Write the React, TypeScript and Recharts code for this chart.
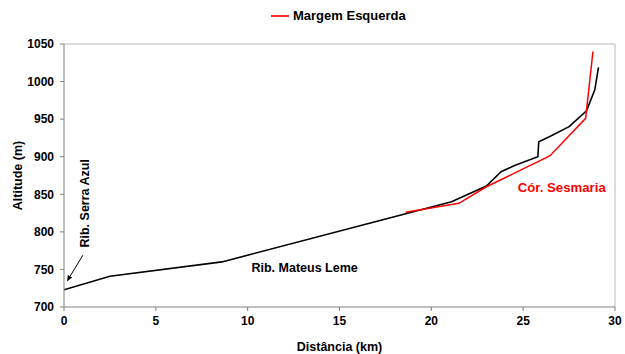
import { LineChart, Line, XAxis, YAxis, ReferenceLine, ReferenceDot } from "recharts";

// perfil longitudinal: distância (km) x altitude (m)
const mainKm = [0, 2.5, 8.6, 17.2, 21.1, 23.0, 23.8, 24.5, 25.8, 25.85, 26.45, 27.5, 28.45, 28.9, 29.1];
const mainAlt = [723, 741, 760, 815, 840, 861, 880, 888, 900, 920, 927, 940, 961, 989, 1019];

const leftKm = [18.6, 21.5, 23.0, 26.45, 28.4, 28.8];
const leftAlt = [826, 838, 860, 901, 951, 1040];

const xTicks = [0, 5, 10, 15, 20, 25, 30];
const yTicks = [700, 750, 800, 850, 900, 950, 1000, 1050];

const FONT = "'Liberation Sans', Arial, sans-serif";
const TICK = { fill: "#000", fontSize: 12, fontWeight: 700, fontFamily: FONT };

const mainData = mainKm.map((d, i) => ({ d, h: mainAlt[i] }));
const leftData = leftKm.map((d, i) => ({ d, h: leftAlt[i] }));

const note = (text: string, color = "#000", size = 12.5, rotate = false) => (p: any) => {
  const { x, y } = p.viewBox;
  return (
    <text x={x} y={y} textAnchor="middle" dominantBaseline="central" fill={color}
      fontSize={size} fontWeight={700} fontFamily={FONT}
      transform={rotate ? `rotate(-90 ${x} ${y})` : undefined}>{text}</text>
  );
};

const Arrow = (p: any) => {
  const { x1, y1, x2, y2 } = p;
  const a = Math.atan2(y2 - y1, x2 - x1);
  const L = 6, W = 2.5;
  const bx = x2 - L * Math.cos(a), by = y2 - L * Math.sin(a);
  const pts = `${x2},${y2} ${bx + W * Math.sin(a)},${by - W * Math.cos(a)} ${bx - W * Math.sin(a)},${by + W * Math.cos(a)}`;
  return (
    <g>
      <line x1={x1} y1={y1} x2={bx} y2={by} stroke="#000" strokeWidth={1} />
      <polygon points={pts} fill="#000" />
    </g>
  );
};

export default function App() {
  return (
    <div style={{ position: "absolute", left: 0, top: 0, width: 625, height: 354, background: "#fff" }}>
      <div style={{ position: "absolute", left: 271, top: 8, display: "flex", alignItems: "center",
        fontFamily: FONT, fontSize: 13, fontWeight: 700, color: "#000" }}>
        <span style={{ display: "inline-block", width: 18, height: 2, background: "#ff3030", marginRight: 4 }} />
        Margem Esquerda
      </div>
      <LineChart width={625} height={354} margin={{ top: 44, right: 10, bottom: 3, left: 0 }}>
        <XAxis type="number" dataKey="d" domain={[0, 30]} ticks={xTicks} allowDataOverflow
          tick={TICK} tickSize={4} tickMargin={5} stroke="#808080" height={44}
          label={{ value: "Distância (km)", position: "insideBottom", offset: 0, fill: "#000",
            fontSize: 12.5, fontWeight: 700, fontFamily: FONT }} />
        <YAxis type="number" dataKey="h" domain={[700, 1050]} ticks={yTicks} allowDataOverflow
          tick={TICK} tickSize={4} tickMargin={6} stroke="#808080" width={64}
          label={{ content: (p: any) => {
            const vb = p.viewBox;
            const cx = vb.x + 18, cy = vb.y + vb.height / 2;
            return <text x={cx} y={cy} textAnchor="middle" dominantBaseline="central"
              transform={`rotate(-90 ${cx} ${cy})`} fill="#000" fontSize={12.5} fontWeight={700}
              fontFamily={FONT}>Altitude (m)</text>;
          } }} />
        <ReferenceLine y={1050} stroke="#d0d0d0" strokeWidth={1.5} />
        <ReferenceLine x={30} stroke="#d0d0d0" strokeWidth={1.5} />
        <Line data={mainData} dataKey="h" type="linear" stroke="#000" strokeWidth={1.6}
          dot={false} isAnimationActive={false} legendType="none" />
        <Line data={leftData} dataKey="h" name="Margem Esquerda" type="linear" stroke="#ff0000"
          strokeWidth={1.5} dot={false} isAnimationActive={false} legendType="plainline" />
        <ReferenceLine segment={[{ x: 1.03, y: 769 }, { x: 0.16, y: 734 }]} shape={Arrow} />
        <ReferenceDot x={1.15} y={838} r={0} fill="none" stroke="none"
          label={{ content: note("Rib. Serra Azul", "#000", 12.5, true) }} />
        <ReferenceDot x={13.1} y={751.5} r={0} fill="none" stroke="none"
          label={{ content: note("Rib. Mateus Leme") }} />
        <ReferenceDot x={27.1} y={859.5} r={0} fill="none" stroke="none"
          label={{ content: note("Cór. Sesmaria", "#ff0000", 13.2) }} />
      </LineChart>
    </div>
  );
}
